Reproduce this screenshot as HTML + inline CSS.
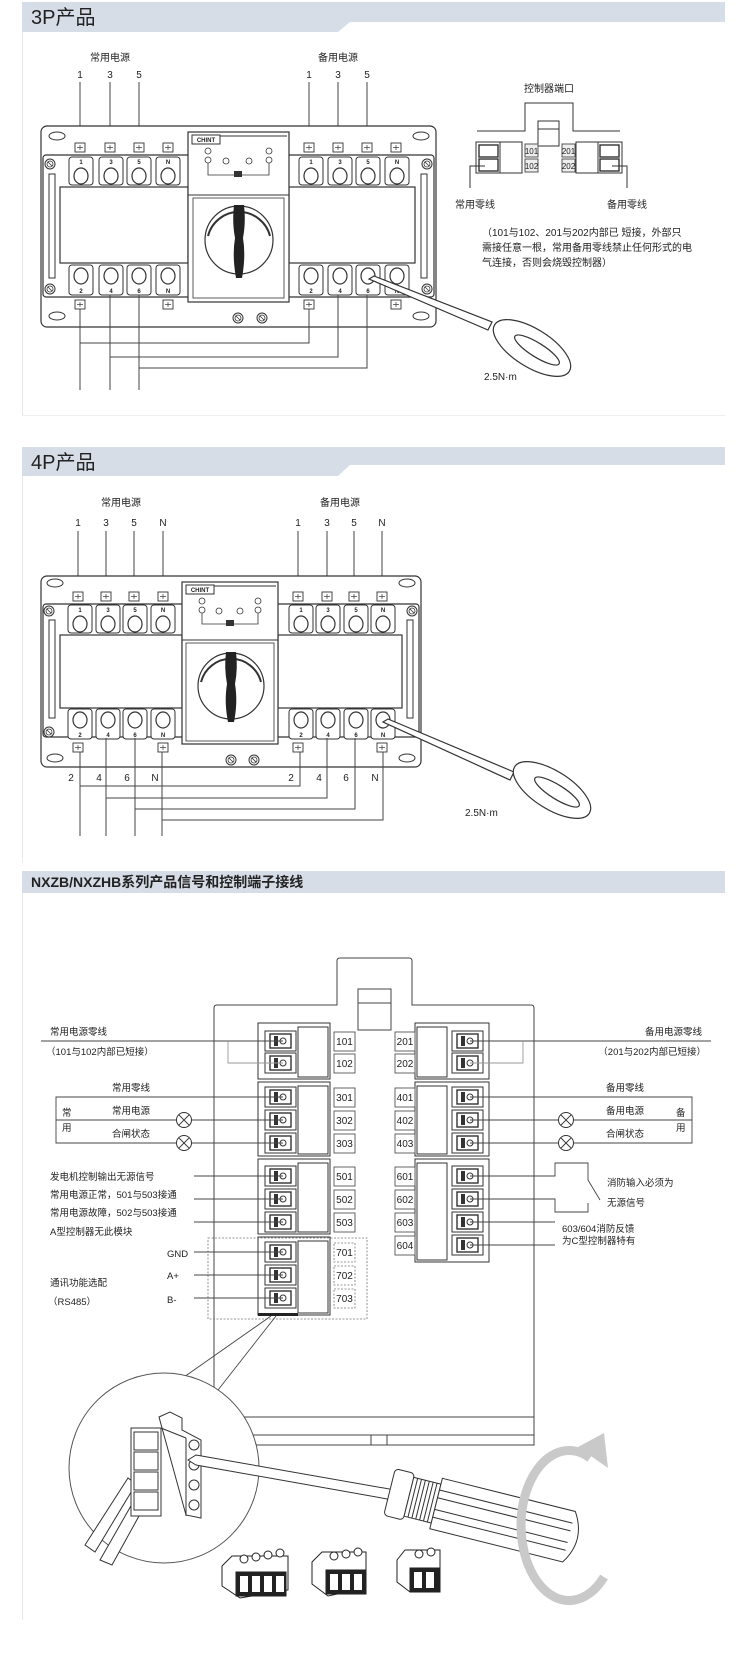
<!DOCTYPE html>
<html><head><meta charset="utf-8"><style>
html,body{margin:0;padding:0;background:#fff}
svg{display:block}
text{font-family:"Liberation Sans","Noto Sans CJK SC",sans-serif;fill:#222}
</style></head><body>
<svg width="750" height="1665" viewBox="0 0 750 1665" xmlns="http://www.w3.org/2000/svg">
<defs>
<g id="tt"><rect x="0" y="0" width="24" height="28" rx="3" fill="#fff" stroke="#333" stroke-width="1"/><ellipse cx="12" cy="19" rx="7" ry="8" fill="#fff" stroke="#333" stroke-width="1.2"/></g>
<g id="bt"><rect x="0" y="0" width="24" height="30" rx="3" fill="#fff" stroke="#333" stroke-width="1"/><ellipse cx="12" cy="11" rx="7" ry="8" fill="#fff" stroke="#333" stroke-width="1.2"/></g>
<g id="tab"><rect x="-5" y="0" width="10" height="9" fill="#fff" stroke="#333" stroke-width="0.9"/><line x1="-3" y1="4.5" x2="3" y2="4.5" stroke="#333" stroke-width="0.7"/><line x1="0" y1="2" x2="0" y2="7" stroke="#333" stroke-width="0.7"/></g>
<g id="scr"><circle r="5" fill="#fff" stroke="#333"/><circle r="3" fill="none" stroke="#333" stroke-width="0.8"/><line x1="-2" y1="-2" x2="2" y2="2" stroke="#333" stroke-width="0.8"/></g>
<g id="sc"><rect x="0" y="-10" width="31" height="20" fill="#fff" stroke="#333" stroke-width="1"/><rect x="5" y="-7" width="21" height="14" fill="#fff" stroke="#333" stroke-width="1.4"/><rect x="9" y="-5" width="4" height="10" fill="#333"/><circle cx="18" cy="0" r="3" fill="#fff" stroke="#333"/></g>
<g id="lamp"><circle r="7.5" fill="#fff" stroke="#333" stroke-width="1"/><line x1="-5.3" y1="-5.3" x2="5.3" y2="5.3" stroke="#333"/><line x1="-5.3" y1="5.3" x2="5.3" y2="-5.3" stroke="#333"/></g>
</defs>

<path d="M22 2 H725 V22 H350 L338 32 H22 Z" fill="#d6dde7"/>
<text x="31" y="24" font-size="20">3P产品</text>
<line x1="22.5" y1="32" x2="22.5" y2="415" stroke="#e8e8e8"/>
<line x1="22" y1="415.5" x2="725" y2="415.5" stroke="#eeeeee"/>

<g font-size="10" text-anchor="middle">
<text x="110" y="61">常用电源</text><text x="338" y="61">备用电源</text>
<text x="80" y="78">1</text><text x="110" y="78">3</text><text x="139" y="78">5</text>
<text x="309" y="78">1</text><text x="338" y="78">3</text><text x="367" y="78">5</text>
</g>
<g stroke="#444" stroke-width="1">
<line x1="80" y1="82" x2="80" y2="143"/><line x1="110" y1="82" x2="110" y2="143"/><line x1="139" y1="82" x2="139" y2="143"/>
<line x1="309" y1="82" x2="309" y2="143"/><line x1="338" y1="82" x2="338" y2="143"/><line x1="367" y1="82" x2="367" y2="143"/>
</g>

<rect x="41" y="126" width="395" height="201" rx="6" fill="#fff" stroke="#333" stroke-width="1.2"/>
<g fill="#fff" stroke="#333"><ellipse cx="57" cy="136" rx="8" ry="4"/><ellipse cx="421" cy="136" rx="8" ry="4"/><ellipse cx="57" cy="316" rx="8" ry="4"/><ellipse cx="421" cy="316" rx="8" ry="4"/></g>
<rect x="43" y="155" width="391" height="142" rx="3" fill="#fff" stroke="#333" stroke-width="1.2"/>
<rect x="49" y="174" width="6" height="104" fill="#fff" stroke="#333"/><rect x="421" y="174" width="6" height="104" fill="#fff" stroke="#333"/>
<use href="#scr" x="50" y="164"/><use href="#scr" x="50" y="289"/><use href="#scr" x="427" y="164"/><use href="#scr" x="427" y="289"/>
<use href="#tab" x="80" y="143"/><use href="#tab" x="110" y="143"/><use href="#tab" x="139" y="143"/><use href="#tab" x="168" y="143"/>
<use href="#tab" x="309" y="143"/><use href="#tab" x="338" y="143"/><use href="#tab" x="367" y="143"/><use href="#tab" x="396" y="143"/>
<use href="#tt" x="69" y="157"/><use href="#tt" x="99" y="157"/><use href="#tt" x="127" y="157"/><use href="#tt" x="156" y="157"/>
<use href="#tt" x="299" y="157"/><use href="#tt" x="328" y="157"/><use href="#tt" x="356" y="157"/><use href="#tt" x="385" y="157"/>
<g font-size="6" text-anchor="middle" font-weight="bold"><text x="81" y="164">1</text><text x="111" y="164">3</text><text x="139" y="164">5</text><text x="168" y="164">N</text>
<text x="311" y="164">1</text><text x="340" y="164">3</text><text x="368" y="164">5</text><text x="397" y="164">N</text></g>
<rect x="60" y="187" width="128" height="76" fill="#fff" stroke="#333" stroke-width="1.2"/>
<rect x="289" y="187" width="126" height="76" fill="#fff" stroke="#333" stroke-width="1.2"/>
<use href="#bt" x="69" y="265"/><use href="#bt" x="99" y="265"/><use href="#bt" x="127" y="265"/><use href="#bt" x="156" y="265"/>
<use href="#bt" x="299" y="265"/><use href="#bt" x="328" y="265"/><use href="#bt" x="356" y="265"/><use href="#bt" x="385" y="265"/>
<g font-size="6" text-anchor="middle" font-weight="bold"><text x="81" y="293">2</text><text x="111" y="293">4</text><text x="139" y="293">6</text><text x="168" y="293">N</text>
<text x="311" y="293">2</text><text x="340" y="293">4</text><text x="368" y="293">6</text><text x="397" y="293">N</text></g>
<use href="#tab" x="80" y="300"/><use href="#tab" x="168" y="300"/><use href="#tab" x="309" y="300"/><use href="#tab" x="396" y="300"/>
<use href="#scr" x="238" y="318"/><use href="#scr" x="262" y="318"/>
<rect x="188" y="132" width="101" height="170" fill="#fff" stroke="#333" stroke-width="1.2"/>
<rect x="192" y="135" width="28" height="9" fill="#fff" stroke="#333"/><text x="206" y="142" font-size="6" text-anchor="middle" font-weight="bold">CHINT</text>
<line x1="220" y1="136" x2="287" y2="136" stroke="#333"/>
<g fill="#fff" stroke="#333" stroke-width="0.8"><circle cx="208" cy="151" r="3"/><circle cx="208" cy="160" r="3"/><circle cx="269" cy="151" r="3"/><circle cx="269" cy="160" r="3"/><circle cx="226" cy="161" r="3"/><circle cx="249" cy="161" r="3"/></g>
<path d="M208 163 V175 H269 V163" fill="none" stroke="#333" stroke-width="0.8"/><rect x="234" y="171" width="8" height="6" fill="#333"/>
<line x1="188" y1="195" x2="289" y2="195" stroke="#333"/>
<rect x="193" y="198" width="91" height="100" fill="#fff" stroke="#333" stroke-width="0.8"/>
<circle cx="239" cy="240" r="34" fill="#fff" stroke="#333" stroke-width="1.2"/>
<path d="M208 236 A32 32 0 0 1 270 236" fill="none" stroke="#333" stroke-width="2"/>
<path d="M234 205 Q232 222 235 238 Q232 256 236 278 H242 Q246 256 243 238 Q246 222 244 205 Z" fill="#222"/>
<g stroke="#444" stroke-width="1" fill="none">
<line x1="80" y1="309" x2="80" y2="390"/><line x1="110" y1="295" x2="110" y2="390"/><line x1="139" y1="295" x2="139" y2="390"/>
<path d="M309 309 V343 H80"/><path d="M338 295 V357 H110"/><path d="M367 295 V368 H139"/>
</g>
<g stroke="#333" stroke-width="1.2" fill="#fff">
<path d="M369 279 L374 276 L492 322 L488 330 Z"/>
<ellipse cx="532" cy="348" rx="44" ry="19" transform="rotate(32 532 348)"/>
<ellipse cx="537" cy="350" rx="26" ry="7" transform="rotate(32 537 350)"/>
</g>
<text x="484" y="380" font-size="10">2.5N·m</text>
<text x="549" y="92" font-size="10" text-anchor="middle">控制器端口</text>
<path d="M477 131 H525 V103 H573 V131 H620" fill="none" stroke="#333"/>
<rect x="538" y="121" width="21" height="25" fill="#fff" stroke="#333"/><line x1="538" y1="129" x2="559" y2="129" stroke="#333"/>
<rect x="476" y="142" width="46" height="31" fill="#fff" stroke="#333"/><line x1="500" y1="142" x2="500" y2="173" stroke="#333"/>
<rect x="479" y="145" width="19" height="12" fill="#fff" stroke="#333" stroke-width="1.4"/><rect x="479" y="159" width="19" height="12" fill="#fff" stroke="#333" stroke-width="1.4"/>
<rect x="576" y="142" width="46" height="31" fill="#fff" stroke="#333"/><line x1="598" y1="142" x2="598" y2="173" stroke="#333"/>
<rect x="600" y="145" width="19" height="12" fill="#fff" stroke="#333" stroke-width="1.4"/><rect x="600" y="159" width="19" height="12" fill="#fff" stroke="#333" stroke-width="1.4"/>
<g font-size="8" text-anchor="middle"><rect x="525" y="144" width="13" height="13" fill="#eee" stroke="#555"/><text x="531.5" y="154">101</text>
<rect x="525" y="159" width="13" height="13" fill="#eee" stroke="#555"/><text x="531.5" y="169">102</text>
<rect x="562" y="144" width="13" height="13" fill="#eee" stroke="#555"/><text x="568.5" y="154">201</text>
<rect x="562" y="159" width="13" height="13" fill="#eee" stroke="#555"/><text x="568.5" y="169">202</text></g>
<path d="M470 188 V166 H485" fill="none" stroke="#333"/><path d="M627 188 V166 H612" fill="none" stroke="#333"/>
<g font-size="10" text-anchor="middle"><text x="475" y="208">常用零线</text><text x="627" y="208">备用零线</text></g>
<g font-size="10"><text x="482" y="236">（101与102、201与202内部已 短接，外部只</text>
<text x="482" y="251">需接任意一根，常用备用零线禁止任何形式的电</text>
<text x="482" y="266">气连接，否则会烧毁控制器）</text></g>

<path d="M22 447 H725 V465 H350 L338 476 H22 Z" fill="#d6dde7"/>
<text x="31" y="469" font-size="20">4P产品</text>
<line x1="22.5" y1="476" x2="22.5" y2="862" stroke="#e8e8e8"/>
<g font-size="10" text-anchor="middle">
<text x="121" y="506">常用电源</text><text x="340" y="506">备用电源</text>
<text x="78" y="526">1</text><text x="106" y="526">3</text><text x="134" y="526">5</text><text x="163" y="526">N</text>
<text x="298" y="526">1</text><text x="327" y="526">3</text><text x="354" y="526">5</text><text x="382" y="526">N</text>
</g>
<g stroke="#444" stroke-width="1">
<line x1="78" y1="531" x2="78" y2="592"/><line x1="106" y1="531" x2="106" y2="592"/><line x1="134" y1="531" x2="134" y2="592"/><line x1="163" y1="531" x2="163" y2="592"/>
<line x1="298" y1="531" x2="298" y2="592"/><line x1="327" y1="531" x2="327" y2="592"/><line x1="354" y1="531" x2="354" y2="592"/><line x1="382" y1="531" x2="382" y2="592"/>
</g>
<rect x="41" y="576" width="380" height="191" rx="6" fill="#fff" stroke="#333" stroke-width="1.2"/>
<g fill="#fff" stroke="#333"><ellipse cx="55" cy="583" rx="8" ry="4"/><ellipse cx="407" cy="583" rx="8" ry="4"/><ellipse cx="55" cy="758" rx="8" ry="4"/><ellipse cx="407" cy="758" rx="8" ry="4"/></g>
<rect x="43" y="604" width="376" height="133" rx="3" fill="#fff" stroke="#333" stroke-width="1.2"/>
<rect x="49" y="620" width="6" height="98" fill="#fff" stroke="#333"/><rect x="407" y="620" width="6" height="98" fill="#fff" stroke="#333"/>
<use href="#scr" x="49" y="611"/><use href="#scr" x="49" y="732"/><use href="#scr" x="412" y="611"/>
<use href="#tab" x="78" y="592"/><use href="#tab" x="106" y="592"/><use href="#tab" x="134" y="592"/><use href="#tab" x="163" y="592"/>
<use href="#tab" x="298" y="592"/><use href="#tab" x="327" y="592"/><use href="#tab" x="354" y="592"/><use href="#tab" x="382" y="592"/>
<use href="#tt" x="68" y="605"/><use href="#tt" x="96" y="605"/><use href="#tt" x="123" y="605"/><use href="#tt" x="151" y="605"/>
<use href="#tt" x="289" y="605"/><use href="#tt" x="316" y="605"/><use href="#tt" x="344" y="605"/><use href="#tt" x="371" y="605"/>
<g font-size="6" text-anchor="middle" font-weight="bold"><text x="80" y="612">1</text><text x="108" y="612">3</text><text x="135" y="612">5</text><text x="163" y="612">N</text>
<text x="301" y="612">1</text><text x="328" y="612">3</text><text x="356" y="612">5</text><text x="383" y="612">N</text></g>
<rect x="60" y="635" width="122" height="73" fill="#fff" stroke="#333" stroke-width="1.2"/>
<rect x="278" y="635" width="124" height="73" fill="#fff" stroke="#333" stroke-width="1.2"/>
<use href="#bt" x="68" y="709"/><use href="#bt" x="96" y="709"/><use href="#bt" x="123" y="709"/><use href="#bt" x="151" y="709"/>
<use href="#bt" x="289" y="709"/><use href="#bt" x="316" y="709"/><use href="#bt" x="344" y="709"/><use href="#bt" x="371" y="709"/>
<g font-size="6" text-anchor="middle" font-weight="bold"><text x="80" y="737">2</text><text x="108" y="737">4</text><text x="135" y="737">6</text><text x="163" y="737">N</text>
<text x="301" y="737">2</text><text x="328" y="737">4</text><text x="356" y="737">6</text><text x="383" y="737">N</text></g>
<use href="#tab" x="78" y="743"/><use href="#tab" x="163" y="743"/><use href="#tab" x="298" y="743"/><use href="#tab" x="382" y="743"/>
<use href="#scr" x="231" y="760"/><use href="#scr" x="254" y="760"/>
<rect x="182" y="582" width="96" height="162" fill="#fff" stroke="#333" stroke-width="1.2"/>
<rect x="186" y="585" width="28" height="9" fill="#fff" stroke="#333"/><text x="200" y="592" font-size="6" text-anchor="middle" font-weight="bold">CHINT</text>
<line x1="214" y1="586" x2="276" y2="586" stroke="#333"/>
<g fill="#fff" stroke="#333" stroke-width="0.8"><circle cx="202" cy="601" r="3"/><circle cx="202" cy="610" r="3"/><circle cx="258" cy="601" r="3"/><circle cx="258" cy="610" r="3"/><circle cx="219" cy="611" r="3"/><circle cx="240" cy="611" r="3"/></g>
<path d="M202 613 V624 H258 V613" fill="none" stroke="#333" stroke-width="0.8"/><rect x="226" y="620" width="8" height="6" fill="#333"/>
<line x1="182" y1="640" x2="278" y2="640" stroke="#333"/>
<rect x="186" y="643" width="88" height="98" fill="#fff" stroke="#333" stroke-width="0.8"/>
<circle cx="231" cy="686" r="33" fill="#fff" stroke="#333" stroke-width="1.2"/>
<path d="M201 682 A31 31 0 0 1 261 682" fill="none" stroke="#333" stroke-width="2"/>
<path d="M226 652 Q224 668 227 684 Q224 702 228 722 H234 Q238 702 235 684 Q238 668 236 652 Z" fill="#222"/>
<g font-size="10" text-anchor="middle">
<text x="71" y="781">2</text><text x="99" y="781">4</text><text x="127" y="781">6</text><text x="155" y="781">N</text>
<text x="291" y="781">2</text><text x="319" y="781">4</text><text x="346" y="781">6</text><text x="375" y="781">N</text>
</g>
<g stroke="#444" stroke-width="1" fill="none">
<line x1="80" y1="752" x2="80" y2="836"/><line x1="106" y1="738" x2="106" y2="836"/><line x1="135" y1="738" x2="135" y2="836"/><line x1="162" y1="752" x2="162" y2="836"/>
<path d="M300 752 V786 H80"/><path d="M327 738 V798 H106"/><path d="M355 738 V809 H135"/><path d="M383 752 V820 H162"/>
</g>
<g stroke="#333" stroke-width="1.2" fill="#fff">
<path d="M383 722 L388 719 L514 772 L510 780 Z"/>
<ellipse cx="552" cy="790" rx="44" ry="19" transform="rotate(32 552 790)"/>
<ellipse cx="557" cy="792" rx="26" ry="7" transform="rotate(32 557 792)"/>
</g>
<text x="465" y="816" font-size="10">2.5N·m</text>

<rect x="22" y="871" width="703" height="22" fill="#d6dde7"/>
<text x="31" y="887" font-size="14" font-weight="bold">NXZB/NXZHB系列产品信号和控制端子接线</text>
<line x1="22.5" y1="893" x2="22.5" y2="1620" stroke="#e8e8e8"/>

<path d="M214 1445 V1008 Q214 1005 217 1005 H337 V961 Q337 958 340 958 H409 Q412 958 412 961 V1005 H531 Q534 1005 534 1008 V1445 Z" fill="#fff" stroke="#444" stroke-width="1"/>
<line x1="214" y1="1417" x2="534" y2="1417" stroke="#444"/><line x1="214" y1="1435" x2="534" y2="1435" stroke="#444"/>
<rect x="371" y="1435" width="16" height="10" fill="#fff" stroke="#444"/>
<rect x="358" y="989" width="33" height="41" fill="#fff" stroke="#444"/><line x1="358" y1="1003" x2="391" y2="1003" stroke="#444"/>

<g fill="#fff" stroke="#333" stroke-width="1">
<rect x="258" y="1023" width="72" height="56"/><rect x="298" y="1027" width="30" height="50"/>
<rect x="258" y="1082" width="72" height="74"/><rect x="298" y="1086" width="30" height="68"/>
<rect x="258" y="1159" width="72" height="75"/><rect x="298" y="1163" width="30" height="69"/>
<rect x="258" y="1237" width="72" height="78"/><rect x="298" y="1241" width="30" height="72"/>
<rect x="415" y="1023" width="74" height="56"/><rect x="417" y="1027" width="30" height="50"/>
<rect x="415" y="1082" width="74" height="74"/><rect x="417" y="1086" width="30" height="68"/>
<rect x="415" y="1159" width="74" height="103"/><rect x="417" y="1163" width="30" height="97"/>
</g>
<rect x="258" y="1313" width="40" height="3" fill="#222"/>
<use href="#sc" x="265" y="1041"/><use href="#sc" x="265" y="1063"/>
<use href="#sc" x="265" y="1097"/><use href="#sc" x="265" y="1120"/><use href="#sc" x="265" y="1143"/>
<use href="#sc" x="265" y="1176"/><use href="#sc" x="265" y="1199"/><use href="#sc" x="265" y="1222"/>
<use href="#sc" x="265" y="1252"/><use href="#sc" x="265" y="1275"/><use href="#sc" x="265" y="1298"/>
<use href="#sc" x="452" y="1041"/><use href="#sc" x="452" y="1063"/>
<use href="#sc" x="452" y="1097"/><use href="#sc" x="452" y="1120"/><use href="#sc" x="452" y="1143"/>
<use href="#sc" x="452" y="1176"/><use href="#sc" x="452" y="1199"/><use href="#sc" x="452" y="1222"/><use href="#sc" x="452" y="1245"/>
<g fill="#fff" stroke="#555" stroke-width="0.9">
<rect x="334" y="1032" width="21" height="19"/><rect x="334" y="1054" width="21" height="19"/>
<rect x="334" y="1088" width="21" height="19"/><rect x="334" y="1111" width="21" height="19"/><rect x="334" y="1134" width="21" height="19"/>
<rect x="334" y="1167" width="21" height="19"/><rect x="334" y="1190" width="21" height="19"/><rect x="334" y="1213" width="21" height="19"/>
<rect x="395" y="1032" width="20" height="19"/><rect x="395" y="1054" width="20" height="19"/>
<rect x="395" y="1088" width="20" height="19"/><rect x="395" y="1111" width="20" height="19"/><rect x="395" y="1134" width="20" height="19"/>
<rect x="395" y="1167" width="20" height="19"/><rect x="395" y="1190" width="20" height="19"/><rect x="395" y="1213" width="20" height="19"/><rect x="395" y="1236" width="20" height="19"/>
</g>
<g fill="none" stroke="#777" stroke-width="0.8" stroke-dasharray="2,1.5">
<rect x="334" y="1243" width="21" height="19"/><rect x="334" y="1266" width="21" height="19"/><rect x="334" y="1289" width="21" height="19"/>
<rect x="208" y="1238" width="159" height="81"/>
</g>
<g font-size="10" text-anchor="middle">
<text x="344.5" y="1045">101</text><text x="344.5" y="1067">102</text><text x="344.5" y="1101">301</text><text x="344.5" y="1124">302</text><text x="344.5" y="1147">303</text>
<text x="344.5" y="1180">501</text><text x="344.5" y="1203">502</text><text x="344.5" y="1226">503</text>
<text x="344.5" y="1256">701</text><text x="344.5" y="1279">702</text><text x="344.5" y="1302">703</text>
<text x="405" y="1045">201</text><text x="405" y="1067">202</text><text x="405" y="1101">401</text><text x="405" y="1124">402</text><text x="405" y="1147">403</text>
<text x="405" y="1180">601</text><text x="405" y="1203">602</text><text x="405" y="1226">603</text><text x="405" y="1249">604</text>
</g>

<g stroke="#444" stroke-width="0.9" fill="none">
<line x1="41" y1="1041" x2="283" y2="1041"/>
<path d="M228 1041 V1063 H283" stroke="#999"/>
<path d="M283 1097 H56 V1143 H283"/><line x1="56" y1="1120" x2="283" y2="1120"/>
<line x1="194" y1="1176" x2="283" y2="1176"/><line x1="194" y1="1199" x2="283" y2="1199"/><line x1="194" y1="1222" x2="283" y2="1222"/>
<line x1="194" y1="1252" x2="283" y2="1252"/><line x1="194" y1="1275" x2="283" y2="1275"/><line x1="194" y1="1298" x2="283" y2="1298"/>
<line x1="470" y1="1041" x2="711" y2="1041"/>
<path d="M523 1041 V1063 H470" stroke="#999"/>
<path d="M470 1097 H692 V1143 H470"/><line x1="470" y1="1120" x2="692" y2="1120"/>
<path d="M470 1176 H555 V1163 H588 V1180 L600 1200"/>
<path d="M470 1199 H555 V1212 H588 V1203"/>
<line x1="470" y1="1222" x2="555" y2="1222"/><line x1="470" y1="1245" x2="555" y2="1245"/>
</g>
<use href="#lamp" x="184" y="1120"/><use href="#lamp" x="184" y="1143"/>
<use href="#lamp" x="566" y="1120"/><use href="#lamp" x="566" y="1143"/>
<g font-size="9.5">
<text x="50" y="1035">常用电源零线</text><text x="46" y="1055">（101与102内部已短接）</text>
<text x="131" y="1091" text-anchor="middle">常用零线</text>
<text x="131" y="1114" text-anchor="middle">常用电源</text><text x="131" y="1137" text-anchor="middle">合闸状态</text>
<text x="62" y="1116">常</text><text x="62" y="1131">用</text>
<text x="50" y="1180">发电机控制输出无源信号</text>
<text x="50" y="1198">常用电源正常，501与503接通</text>
<text x="50" y="1216">常用电源故障，502与503接通</text>
<text x="50" y="1235">A型控制器无此模块</text>
<text x="167" y="1257">GND</text><text x="167" y="1279">A+</text><text x="167" y="1303">B-</text>
<text x="50" y="1286">通讯功能选配</text><text x="48" y="1305">（RS485）</text>
<text x="702" y="1035" text-anchor="end">备用电源零线</text><text x="706" y="1055" text-anchor="end">（201与202内部已短接）</text>
<text x="625" y="1091" text-anchor="middle">备用零线</text>
<text x="625" y="1114" text-anchor="middle">备用电源</text><text x="625" y="1137" text-anchor="middle">合闸状态</text>
<text x="676" y="1116">备</text><text x="676" y="1131">用</text>
<text x="607" y="1186">消防输入必须为</text><text x="607" y="1206">无源信号</text>
<text x="562" y="1232">603/604消防反馈</text><text x="562" y="1244">为C型控制器特有</text>
</g>

<g stroke="#444" stroke-width="0.9" fill="none">
<line x1="184" y1="1377" x2="271" y2="1316"/><line x1="218" y1="1390" x2="276" y2="1316"/>
</g>
<circle cx="164" cy="1468" r="95" fill="#fff" stroke="#555" stroke-width="1"/>
<g stroke="#333" stroke-width="1" fill="#fff">
<path d="M100 1560 L140 1490 L150 1496 L112 1565 Z"/><path d="M85 1545 L128 1478 L136 1484 L95 1552 Z"/>
<path d="M159 1417 L170 1412 L182 1418 L182 1430 L201 1440 L201 1518 L186 1515 Z"/>
<rect x="131" y="1428" width="30" height="88"/>
<rect x="134" y="1432" width="24" height="18"/><rect x="134" y="1452" width="24" height="18"/><rect x="134" y="1472" width="24" height="18"/><rect x="134" y="1492" width="24" height="18"/>
<line x1="161" y1="1428" x2="186" y2="1438"/><line x1="186" y1="1438" x2="186" y2="1516"/>
<circle cx="194" cy="1445" r="5"/><circle cx="194" cy="1465" r="5"/><circle cx="194" cy="1485" r="5"/><circle cx="194" cy="1505" r="5"/>
</g>
<path d="M196 1455 L395 1490 L393 1500 L196 1465 L188 1460 Z" fill="#fff" stroke="#333" stroke-width="1"/>
<g transform="rotate(14 390 1490)" stroke="#333" stroke-width="1" fill="#fff">
<rect x="390" y="1468" width="20" height="48" rx="4"/>
<rect x="410" y="1472" width="28" height="40"/>
<line x1="414" y1="1472" x2="414" y2="1512"/><line x1="418" y1="1472" x2="418" y2="1512"/><line x1="422" y1="1472" x2="422" y2="1512"/><line x1="426" y1="1472" x2="426" y2="1512"/><line x1="430" y1="1472" x2="430" y2="1512"/><line x1="434" y1="1472" x2="434" y2="1512"/>
<path d="M438 1466 H575 Q592 1492 575 1518 H438 Z"/>
<line x1="438" y1="1478" x2="575" y2="1478"/><line x1="438" y1="1486" x2="575" y2="1486"/><line x1="438" y1="1498" x2="575" y2="1498"/><line x1="438" y1="1506" x2="575" y2="1506"/>
</g>
<path d="M590 1458 A48 75 0 1 0 604 1577" fill="none" stroke="#c9c9c9" stroke-width="9"/>
<path d="M578 1447 L604 1433 L608 1468 Z" fill="#c9c9c9"/>
<g stroke="#222" stroke-width="1">
<path d="M222 1566 L232 1556 H288 V1590 L240 1598 L222 1586 Z" fill="#fff"/>
<rect x="236" y="1572" width="50" height="24" fill="#222"/>
<g fill="#fff" stroke="none"><rect x="240" y="1576" width="8" height="16"/><rect x="252" y="1576" width="8" height="16"/><rect x="264" y="1576" width="8" height="16"/><rect x="276" y="1576" width="8" height="16"/></g>
<circle cx="244" cy="1559" r="4" fill="#fff"/><circle cx="256" cy="1557" r="4" fill="#fff"/><circle cx="268" cy="1555" r="4" fill="#fff"/><circle cx="280" cy="1553" r="4" fill="#fff"/>
<path d="M312 1562 L322 1552 H366 V1588 L328 1596 L312 1584 Z" fill="#fff"/>
<rect x="326" y="1570" width="40" height="24" fill="#222"/>
<g fill="#fff" stroke="none"><rect x="330" y="1574" width="8" height="16"/><rect x="342" y="1574" width="8" height="16"/><rect x="354" y="1574" width="8" height="16"/></g>
<circle cx="334" cy="1556" r="4" fill="#fff"/><circle cx="346" cy="1554" r="4" fill="#fff"/><circle cx="358" cy="1552" r="4" fill="#fff"/>
<path d="M397 1560 L405 1550 H440 V1585 L410 1592 L397 1582 Z" fill="#fff"/>
<rect x="410" y="1568" width="30" height="24" fill="#222"/>
<g fill="#fff" stroke="none"><rect x="414" y="1572" width="8" height="16"/><rect x="426" y="1572" width="8" height="16"/></g>
<circle cx="419" cy="1554" r="4" fill="#fff"/><circle cx="431" cy="1552" r="4" fill="#fff"/>
</g>
</svg>
</body></html>
